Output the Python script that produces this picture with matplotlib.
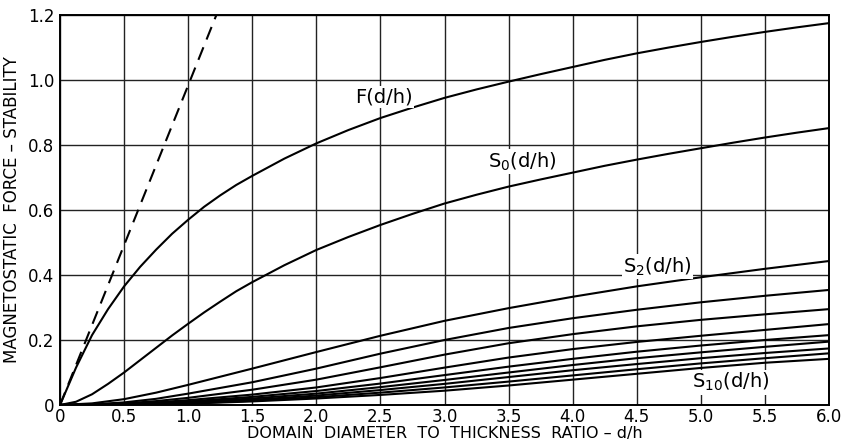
import matplotlib
matplotlib.use("Agg")
import matplotlib.pyplot as plt

# ---- data ----
x_fine = [0, 0.125, 0.25, 0.375, 0.5, 0.625, 0.75, 0.875, 1.0, 1.125, 1.25, 1.375, 1.5,
          1.75, 2.0, 2.25, 2.5, 2.75, 3.0, 3.25, 3.5, 3.75, 4.0, 4.25, 4.5, 4.75, 5.0, 5.25, 5.5, 5.75, 6.0]
F_vals = [0, 0.115, 0.215, 0.295, 0.365, 0.425, 0.478, 0.527, 0.57, 0.61, 0.645, 0.677, 0.705,
          0.758, 0.805, 0.846, 0.883, 0.915, 0.945, 0.971, 0.995, 1.018, 1.04, 1.062, 1.082, 1.10, 1.117, 1.133, 1.148, 1.162, 1.175]
S0_vals = [0, 0.01, 0.033, 0.065, 0.10, 0.138, 0.176, 0.214, 0.25, 0.285, 0.318, 0.35, 0.378,
           0.43, 0.477, 0.517, 0.554, 0.588, 0.62, 0.647, 0.672, 0.694, 0.715, 0.736, 0.755, 0.773, 0.79, 0.807, 0.823, 0.838, 0.852]

x_s = [0, 0.25, 0.5, 0.75, 1.0, 1.5, 2.0, 2.5, 3.0, 3.5, 4.0, 4.5, 5.0, 5.5, 6.0]
S2_vals = [0, 0.005, 0.018, 0.038, 0.062, 0.112, 0.163, 0.213, 0.259, 0.298, 0.333, 0.365, 0.393, 0.419, 0.443]
S3_vals = [0, 0.002, 0.008, 0.019, 0.035, 0.070, 0.112, 0.158, 0.200, 0.237, 0.267, 0.293, 0.316, 0.336, 0.354]
S4_vals = [0, 0.001, 0.005, 0.012, 0.022, 0.047, 0.078, 0.116, 0.155, 0.190, 0.218, 0.242, 0.262, 0.279, 0.295]
S5_vals = [0, 0.001, 0.003, 0.008, 0.015, 0.032, 0.054, 0.083, 0.115, 0.146, 0.172, 0.194, 0.213, 0.231, 0.249]
S6_vals = [0, 0.0005, 0.002, 0.006, 0.011, 0.025, 0.043, 0.066, 0.092, 0.118, 0.142, 0.164, 0.183, 0.200, 0.215]
S7_vals = [0, 0.0005, 0.002, 0.005, 0.009, 0.020, 0.035, 0.055, 0.077, 0.100, 0.123, 0.144, 0.162, 0.179, 0.195]
S8_vals = [0, 0.0003, 0.001, 0.004, 0.007, 0.016, 0.029, 0.046, 0.065, 0.086, 0.107, 0.126, 0.144, 0.160, 0.174]
S9_vals = [0, 0.0003, 0.001, 0.003, 0.005, 0.013, 0.024, 0.038, 0.054, 0.072, 0.091, 0.110, 0.128, 0.144, 0.159]
S10_vals = [0, 0.0002, 0.001, 0.002, 0.004, 0.011, 0.020, 0.031, 0.044, 0.060, 0.078, 0.096, 0.114, 0.130, 0.142]
s_series = [S2_vals, S3_vals, S4_vals, S5_vals, S6_vals, S7_vals, S8_vals, S9_vals, S10_vals]

dash_x = [0, 1.22]
dash_y = [0, 1.2]

x_ticks = [0, 0.5, 1.0, 1.5, 2.0, 2.5, 3.0, 3.5, 4.0, 4.5, 5.0, 5.5, 6.0]
x_ticklabels = ["0", "0.5", "1.0", "1.5", "2.0", "2.5", "3.0", "3.5", "4.0", "4.5", "5.0", "5.5", "6.0"]
y_ticks = [0, 0.2, 0.4, 0.6, 0.8, 1.0, 1.2]
y_ticklabels = ["0", "0.2", "0.4", "0.6", "0.8", "1.0", "1.2"]

# ---- figure ----
fig = plt.figure(figsize=(8.43, 4.44), dpi=100)
ax = fig.add_axes([60/843, 39/444, (829-60)/843, (405-15)/444])

lw = 1.5
ax.plot(dash_x, dash_y, color="black", lw=lw, ls=(0, (6.5, 4)), zorder=3)
ax.plot(x_fine, F_vals, color="black", lw=lw, zorder=3)
ax.plot(x_fine, S0_vals, color="black", lw=lw, zorder=3)
for s in s_series:
    ax.plot(x_s, s, color="black", lw=lw, zorder=3)

ax.set_xlim(0, 6)
ax.set_ylim(0, 1.2)
ax.set_xticks(x_ticks)
ax.set_xticklabels(x_ticklabels)
ax.set_yticks(y_ticks)
ax.set_yticklabels(y_ticklabels)
ax.tick_params(axis="x", length=0, labelsize=12, pad=2)
ax.tick_params(axis="y", length=0, labelsize=12, pad=4)
ax.grid(True, color="#222222", lw=1.0)
for sp in ax.spines.values():
    sp.set_linewidth(1.4)

ax.set_xlabel("DOMAIN  DIAMETER  TO  THICKNESS  RATIO – d/h", fontsize=11.5, labelpad=0)
ax.set_ylabel("MAGNETOSTATIC  FORCE – STABILITY", fontsize=12, labelpad=5)

bb = dict(facecolor="white", edgecolor="none", pad=1.0)
fs = 14
ax.text(2.53, 0.948, "F(d/h)", fontsize=fs, ha="center", va="center", zorder=4, bbox=bb)
ax.text(3.61, 0.748, "S$_0$(d/h)", fontsize=fs, ha="center", va="center", zorder=4, bbox=bb)
ax.text(4.66, 0.425, "S$_2$(d/h)", fontsize=fs, ha="center", va="center", zorder=4, bbox=bb)
ax.text(5.23, 0.07, "S$_{10}$(d/h)", fontsize=fs, ha="center", va="center", zorder=4, bbox=bb)

fig.savefig("out.png", dpi=100)
